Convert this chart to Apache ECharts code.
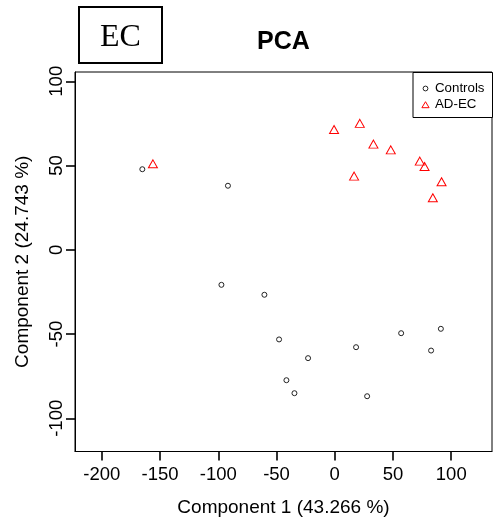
<!DOCTYPE html>
<html>
<head>
<meta charset="utf-8">
<script src="https://cdn.jsdelivr.net/npm/echarts@6/dist/echarts.min.js"></script>
<style>html,body{margin:0;padding:0;background:#fff;}#c{width:493px;height:519px;}</style>
</head>
<body>
<div id="c"></div>
<script>
// Component 1 / Component 2 scores
var controlsX = [-165.2, -91.7, -97.3, -60.4, -47.8, -22.9, -41.5, -34.6, 18.3, 27.8, 57.0, 82.7, 91.1];
var controlsY = [47.8, 38.0, -20.8, -26.7, -53.2, -64.3, -77.4, -85.1, -57.8, -86.9, -49.5, -59.8, -46.9];
var adecX = [-156.1, -0.6, 21.5, 33.2, 48.1, 73.0, 77.1, 16.6, 91.7, 84.2];
var adecY = [51.0, 71.4, 75.0, 62.7, 59.3, 52.6, 49.4, 43.7, 40.4, 30.9];
var xTicks = [-200, -150, -100, -50, 0, 50, 100];
var yTicks = [-100, -50, 0, 50, 100];

var FONT = '"Liberation Sans", Arial, sans-serif';
function pairs(xs, ys) { return xs.map(function (x, i) { return [x, ys[i]]; }); }

var chart = echarts.init(document.getElementById('c'), null, {renderer: 'canvas'});
chart.setOption({
  animation: false,
  backgroundColor: '#fff',
  title: {
    text: 'PCA', left: 283.5, top: 30, padding: 0, textAlign: 'center',
    textStyle: {fontFamily: FONT, fontWeight: 'bold', fontSize: 25, color: '#000'}
  },
  graphic: [
    {type: 'rect', shape: {x: 79, y: 7, width: 83, height: 56}, style: {fill: '#fff', stroke: '#000', lineWidth: 2}},
    {type: 'text', x: 120.5, y: 37.5, style: {text: 'EC', fontFamily: '"Liberation Serif", "Times New Roman", serif', fontSize: 32, fill: '#000', align: 'center', verticalAlign: 'middle'}}
  ],
  legend: {
    orient: 'vertical', left: 413, top: 72.5, padding: [9, 8, 6, 8], itemGap: 2,
    itemWidth: 9, itemHeight: 8, borderColor: '#000', borderWidth: 1, backgroundColor: '#fff',
    itemStyle: {borderWidth: 1},
    textStyle: {fontFamily: FONT, fontSize: 13.3, color: '#000', lineHeight: 14},
    data: [
      {name: 'Controls', icon: 'path://M0 0M10 10M8 5A3 3 0 1 1 2 5A3 3 0 1 1 8 5Z'},
      {name: 'AD-EC', icon: 'path://M0 0M10 10M5 1.5L9.5 9L0.5 9Z'}
    ]
  },
  grid: {left: 75, right: 1, top: 72, bottom: 67.5, outerBoundsMode: 'none', containLabel: false,
         show: true, borderColor: '#000', borderWidth: 1, backgroundColor: 'transparent'},
  xAxis: {
    type: 'value', min: -223, max: 135,
    name: 'Component 1 (43.266 %)', nameLocation: 'middle', nameGap: 47,
    nameTextStyle: {fontFamily: FONT, fontSize: 19, color: '#000'},
    axisLine: {show: true, onZero: false, lineStyle: {color: '#000', width: 1}},
    axisTick: {show: true, inside: false, length: 9, customValues: xTicks, lineStyle: {color: '#000', width: 1.6}},
    axisLabel: {customValues: xTicks, fontFamily: FONT, fontSize: 18.5, color: '#000', margin: 14},
    splitLine: {show: false}
  },
  yAxis: {
    type: 'value', min: -119.7, max: 105.5,
    name: 'Component 2 (24.743 %)', nameLocation: 'middle', nameGap: 43,
    nameTextStyle: {fontFamily: FONT, fontSize: 19, color: '#000'},
    axisLine: {show: true, onZero: false, lineStyle: {color: '#000', width: 1}},
    axisTick: {show: true, inside: false, length: 9, customValues: yTicks, lineStyle: {color: '#000', width: 1.6}},
    axisLabel: {customValues: yTicks, rotate: 90, fontFamily: FONT, fontSize: 18.5, color: '#000', margin: 9},
    splitLine: {show: false}
  },
  series: [
    {
      name: 'Controls', type: 'scatter', symbol: 'circle', symbolSize: 5,
      itemStyle: {color: 'rgba(255,255,255,0)', borderColor: '#222', borderWidth: 1, opacity: 1},
      data: pairs(controlsX, controlsY)
    },
    {
      name: 'AD-EC', type: 'scatter', symbol: 'triangle', symbolSize: [9, 8],
      itemStyle: {color: 'rgba(255,255,255,0)', borderColor: '#ff0000', borderWidth: 1, opacity: 1},
      data: pairs(adecX, adecY)
    }
  ]
});
</script>
</body>
</html>
